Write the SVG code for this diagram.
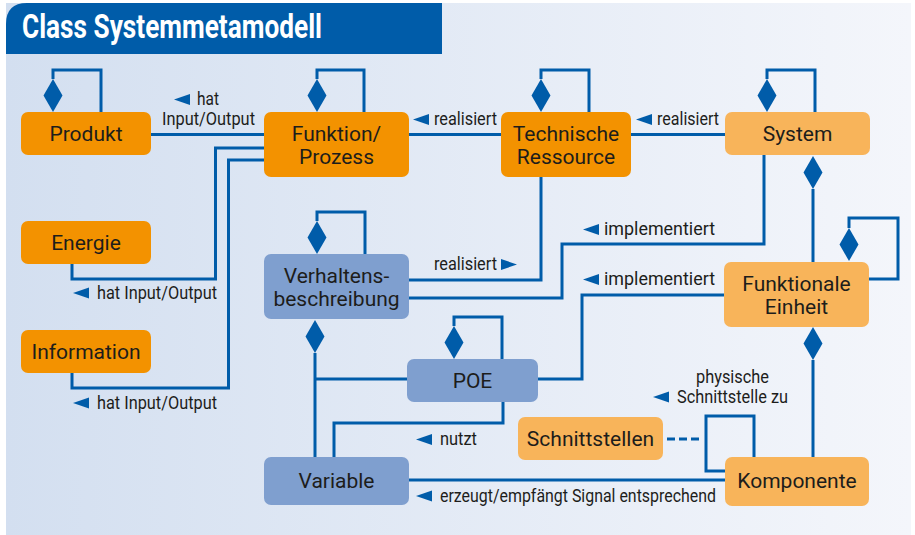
<svg xmlns="http://www.w3.org/2000/svg" xmlns:xlink="http://www.w3.org/1999/xlink" width="915" height="535" viewBox="0 0 915 535">
  <style>
    .box1 { fill: #f39200; }
    .box2 { fill: #f8b45a; }
    .box3 { fill: #7f9fcf; }
    .nt { font-family: Roboto, "Liberation Sans", sans-serif; font-size: 21px; fill: #1d1d1b; text-anchor: middle; }
    .lt { font-family: Roboto, "Liberation Sans", sans-serif; font-size: 18px; fill: #1d1d1b; }
    .ln { fill: none; stroke: #005ca9; stroke-width: 3; }
    .dash { fill: none; stroke: #005ca9; stroke-width: 3; stroke-dasharray: 8 4; }
    .mk { fill: #005ca9; }
  </style>
  <defs>
    <linearGradient id="bg" x1="0" y1="0" x2="1" y2="0">
      <stop offset="0" stop-color="#d3dff0"/>
      <stop offset="1" stop-color="#f4f6fb"/>
    </linearGradient>
    <!-- composition diamond, top vertex at origin -->
    <path id="dia" d="M0,0 L9.5,16.5 L0,33 L-9.5,16.5 Z"/>
    <!-- direction triangles, tip at origin -->
    <path id="tl" d="M0,0 L16,-5.5 L16,5.5 Z"/>
    <path id="tr" d="M0,0 L-16,-5.5 L-16,5.5 Z"/>
  </defs>

  <!-- background panel and header -->
  <rect x="6" y="3" width="905" height="532" fill="url(#bg)"/>
  <path d="M6,54 V24 Q6,3 27,3 H442 V54 Z" fill="#005ca9"/>
  <text x="22" y="38" font-family="Roboto, 'Liberation Sans', sans-serif" font-weight="700" font-size="33" fill="#ffffff" textLength="300" lengthAdjust="spacingAndGlyphs">Class Systemmetamodell</text>

  <!-- connectors -->
  <g id="connectors">
    <!-- self-compositions -->
    <path class="ln" d="M53,79 V70 H101 V112"/>
    <use href="#dia" class="mk" x="53" y="79"/>
    <path class="ln" d="M317,79 V70 H364 V112"/>
    <use href="#dia" class="mk" x="317" y="79"/>
    <path class="ln" d="M541,79 V70 H589 V112"/>
    <use href="#dia" class="mk" x="541" y="79"/>
    <path class="ln" d="M767,79 V70 H815 V112"/>
    <use href="#dia" class="mk" x="767" y="79"/>
    <path class="ln" d="M317,221 V212 H365 V254"/>
    <use href="#dia" class="mk" x="317" y="221"/>
    <path class="ln" d="M454,326 V317 H502 V359"/>
    <use href="#dia" class="mk" x="454" y="326"/>
    <path class="ln" d="M849,228 V218 H898 V279 H869"/>
    <use href="#dia" class="mk" x="849" y="228"/>

    <!-- top row associations -->
    <path class="ln" d="M151,134.5 H264"/>
    <path class="ln" d="M409,134.5 H501"/>
    <path class="ln" d="M631,134.5 H725"/>

    <!-- Energie / Information to Funktion/Prozess -->
    <path class="ln" d="M72,264 V279 H215.5 V148 H264"/>
    <path class="ln" d="M72,373 V388 H228.5 V160 H264"/>

    <!-- System to Funktionale Einheit -->
    <use href="#dia" class="mk" x="813" y="156"/>
    <path class="ln" d="M813,189 V262"/>
    <!-- Funktionale Einheit to Komponente -->
    <use href="#dia" class="mk" x="813" y="327"/>
    <path class="ln" d="M813,360 V457"/>

    <!-- realisiert / implementiert -->
    <path class="ln" d="M541,177 V280 H409"/>
    <path class="ln" d="M764,155 V244 H562 V298 H409"/>
    <path class="ln" d="M724,295 H582 V379 H538"/>

    <!-- Verhaltensbeschreibung to Variable and POE -->
    <use href="#dia" class="mk" x="315" y="320"/>
    <path class="ln" d="M315,353 V457"/>
    <path class="ln" d="M407,379 H315"/>

    <!-- POE uses Variable -->
    <path class="ln" d="M503,402 V423 H334 V457"/>

    <!-- Variable to Komponente -->
    <path class="ln" d="M409,480 H725"/>

    <!-- Komponente physical interface loop -->
    <path class="ln" d="M754,457 V416 H706 V471 H725"/>
    <path class="dash" d="M667,439 H703"/>
  </g>

  <!-- association labels -->
  <g id="labels">
    <use href="#tl" class="mk" x="174" y="99.5"/>
    <text class="lt" x="197" y="105" textLength="22" lengthAdjust="spacingAndGlyphs">hat</text>
    <text class="lt" x="162" y="125" textLength="93" lengthAdjust="spacingAndGlyphs">Input/Output</text>

    <use href="#tl" class="mk" x="413" y="119.5"/>
    <text class="lt" x="434" y="125" textLength="63" lengthAdjust="spacingAndGlyphs">realisiert</text>

    <use href="#tl" class="mk" x="636" y="119.5"/>
    <text class="lt" x="657" y="125" textLength="62" lengthAdjust="spacingAndGlyphs">realisiert</text>

    <use href="#tl" class="mk" x="583" y="229.5"/>
    <text class="lt" x="604" y="235" textLength="111" lengthAdjust="spacingAndGlyphs">implementiert</text>

    <text class="lt" x="434" y="270" textLength="63" lengthAdjust="spacingAndGlyphs">realisiert</text>
    <use href="#tr" class="mk" x="517" y="264.5"/>

    <use href="#tl" class="mk" x="583" y="279.5"/>
    <text class="lt" x="604" y="285" textLength="111" lengthAdjust="spacingAndGlyphs">implementiert</text>

    <use href="#tl" class="mk" x="73" y="293"/>
    <text class="lt" x="97" y="299" textLength="120" lengthAdjust="spacingAndGlyphs">hat Input/Output</text>

    <use href="#tl" class="mk" x="73" y="403"/>
    <text class="lt" x="97" y="409" textLength="120" lengthAdjust="spacingAndGlyphs">hat Input/Output</text>

    <text class="lt" x="696" y="383" textLength="73" lengthAdjust="spacingAndGlyphs">physische</text>
    <use href="#tl" class="mk" x="653" y="397"/>
    <text class="lt" x="677" y="403" textLength="111" lengthAdjust="spacingAndGlyphs">Schnittstelle zu</text>

    <use href="#tl" class="mk" x="416" y="439.5"/>
    <text class="lt" x="440" y="445" textLength="37" lengthAdjust="spacingAndGlyphs">nutzt</text>

    <use href="#tl" class="mk" x="416" y="496"/>
    <text class="lt" x="440" y="501.5" textLength="276" lengthAdjust="spacingAndGlyphs">erzeugt/empfängt Signal entsprechend</text>
  </g>

  <!-- nodes -->
  <g id="produkt">
    <rect class="box1" x="21" y="112" width="130" height="43" rx="7"/>
    <text class="nt" x="86" y="141">Produkt</text>
  </g>
  <g id="funktion-prozess">
    <rect class="box1" x="264" y="112" width="145" height="65" rx="7"/>
    <text class="nt" x="336.5" y="141">Funktion/</text>
    <text class="nt" x="336.5" y="164">Prozess</text>
  </g>
  <g id="technische-ressource">
    <rect class="box1" x="501" y="112" width="130" height="65" rx="7"/>
    <text class="nt" x="566" y="141">Technische</text>
    <text class="nt" x="566" y="164">Ressource</text>
  </g>
  <g id="system">
    <rect class="box2" x="725" y="112" width="145" height="43" rx="7"/>
    <text class="nt" x="797.5" y="141">System</text>
  </g>
  <g id="energie">
    <rect class="box1" x="21" y="221" width="130" height="43" rx="7"/>
    <text class="nt" x="86" y="249.5">Energie</text>
  </g>
  <g id="information">
    <rect class="box1" x="21" y="330" width="130" height="43" rx="7"/>
    <text class="nt" x="86" y="358.5">Information</text>
  </g>
  <g id="verhaltensbeschreibung">
    <rect class="box3" x="264" y="254" width="145" height="65" rx="7"/>
    <text class="nt" x="336.5" y="282.5">Verhaltens-</text>
    <text class="nt" x="336.5" y="305.5">beschreibung</text>
  </g>
  <g id="funktionale-einheit">
    <rect class="box2" x="724" y="262" width="145" height="65" rx="7"/>
    <text class="nt" x="796.5" y="290.5">Funktionale</text>
    <text class="nt" x="796.5" y="313.5">Einheit</text>
  </g>
  <g id="poe">
    <rect class="box3" x="407" y="359" width="131" height="43" rx="7"/>
    <text class="nt" x="472.5" y="387.5">POE</text>
  </g>
  <g id="schnittstellen">
    <rect class="box2" x="518" y="417" width="145" height="43" rx="7"/>
    <text class="nt" x="590.5" y="446">Schnittstellen</text>
  </g>
  <g id="variable">
    <rect class="box3" x="264" y="457" width="145" height="48" rx="7"/>
    <text class="nt" x="336.5" y="488">Variable</text>
  </g>
  <g id="komponente">
    <rect class="box2" x="725" y="457" width="144" height="49" rx="7"/>
    <text class="nt" x="797" y="488">Komponente</text>
  </g>
</svg>
